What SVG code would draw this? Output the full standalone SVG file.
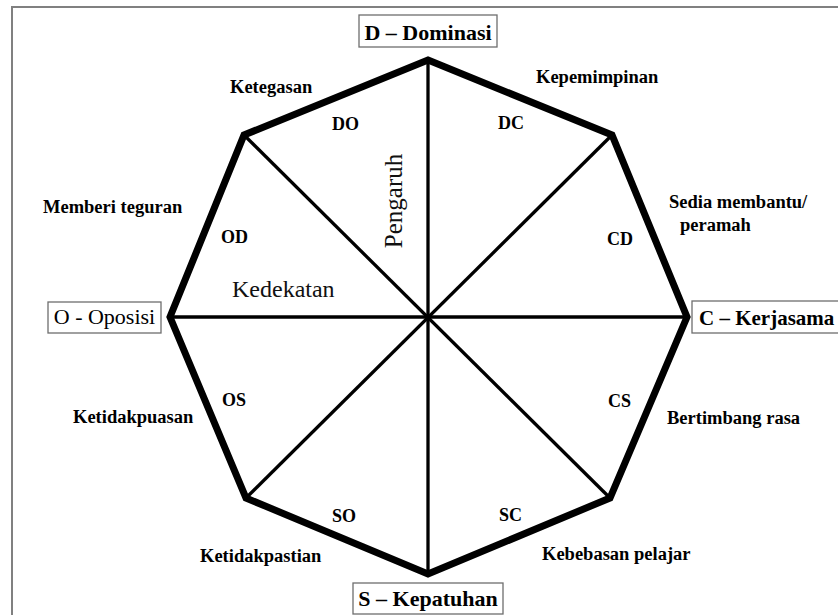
<svg xmlns="http://www.w3.org/2000/svg" width="838" height="615" viewBox="0 0 838 615">
<style>
.frame{fill:none;stroke:#808080;stroke-width:2}
.box{fill:#fff;stroke:#6e6e6e;stroke-width:1.3}
.oct{fill:none;stroke:#000;stroke-width:7;stroke-linejoin:miter}
.spoke{stroke:#000;stroke-width:3.3;fill:none}
</style>
<rect class="frame" x="12" y="7" width="840" height="620"/>
<g id="connectors">
<line class="spoke" x1="428" y1="60" x2="428" y2="574"/>
<line class="spoke" x1="170" y1="317" x2="687" y2="317"/>
<line class="spoke" x1="244" y1="135" x2="610" y2="498"/>
<line class="spoke" x1="612" y1="135" x2="246" y2="498"/>
</g>
<g id="octagon">
<polygon class="oct" points="428,60 612,135 687,317 610,498 428,574 246,498 170,317 244,135"/>
</g>
<g id="node-D">
<rect class="box" x="359" y="15" width="138" height="32"/>
<text x="428" y="40" text-anchor="middle" font-weight="bold" font-size="22" font-family="Liberation Serif">D – Dominasi</text>
</g>
<g id="node-O">
<rect class="box" x="48" y="302" width="113" height="31"/>
<text x="104.5" y="324" text-anchor="middle" font-size="22" font-family="Liberation Serif">O - Oposisi</text>
</g>
<g id="node-C">
<rect class="box" x="692" y="301" width="160" height="32"/>
<text x="699" y="325" font-weight="bold" font-size="21" font-family="Liberation Serif">C – Kerjasama</text>
</g>
<g id="node-S">
<rect class="box" x="353" y="583" width="150" height="31"/>
<text x="428" y="606" text-anchor="middle" font-weight="bold" font-size="22" font-family="Liberation Serif">S – Kepatuhan</text>
</g>
<g id="labels">
<text x="230" y="93" font-family="Liberation Serif" font-size="18.5" font-weight="bold">Ketegasan</text>
<text x="536" y="83" font-family="Liberation Serif" font-size="18.5" font-weight="bold">Kepemimpinan</text>
<text x="43" y="213" font-family="Liberation Serif" font-size="18.5" font-weight="bold">Memberi teguran</text>
<text x="669" y="208" font-family="Liberation Serif" font-size="18.5" font-weight="bold">Sedia membantu/</text>
<text x="680" y="231" font-family="Liberation Serif" font-size="18.5" font-weight="bold">peramah</text>
<text x="73" y="423" font-family="Liberation Serif" font-size="18.5" font-weight="bold">Ketidakpuasan</text>
<text x="667" y="424" font-family="Liberation Serif" font-size="18.5" font-weight="bold">Bertimbang rasa</text>
<text x="200" y="562" font-family="Liberation Serif" font-size="18.5" font-weight="bold">Ketidakpastian</text>
<text x="542" y="560" font-family="Liberation Serif" font-size="18.5" font-weight="bold">Kebebasan pelajar</text>
</g>
<g id="codes">
<text x="332" y="130" font-family="Liberation Serif" font-size="18" font-weight="bold">DO</text>
<text x="498" y="129" font-family="Liberation Serif" font-size="18" font-weight="bold">DC</text>
<text x="221" y="243" font-family="Liberation Serif" font-size="18" font-weight="bold">OD</text>
<text x="607" y="245" font-family="Liberation Serif" font-size="18" font-weight="bold">CD</text>
<text x="222" y="406" font-family="Liberation Serif" font-size="18" font-weight="bold">OS</text>
<text x="608" y="407" font-family="Liberation Serif" font-size="18" font-weight="bold">CS</text>
<text x="332" y="522" font-family="Liberation Serif" font-size="18" font-weight="bold">SO</text>
<text x="499" y="521" font-family="Liberation Serif" font-size="18" font-weight="bold">SC</text>
</g>
<g id="axes">
<text x="232" y="297" font-family="Liberation Serif" font-size="24" fill="#111">Kedekatan</text>
<text transform="translate(402,201) rotate(-90)" text-anchor="middle" font-family="Liberation Serif" font-size="25" fill="#111">Pengaruh</text>
</g>
</svg>
